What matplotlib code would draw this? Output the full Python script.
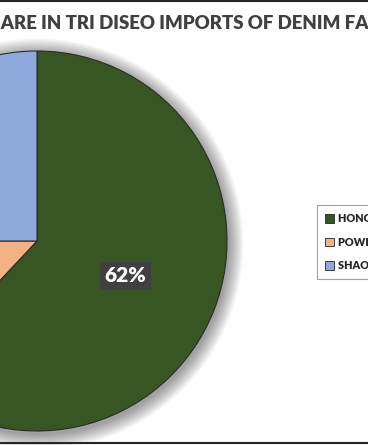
import matplotlib.pyplot as plt
from matplotlib.lines import Line2D
from matplotlib.patches import Circle

plt.rcParams["font.family"] = ["Lato", "DejaVu Sans"]

title = "SHARE IN TRI DISEO IMPORTS OF DENIM FABRIC"
labels = ["HONG KONG TEXTILES", "POWER FABRICS LTD", "SHAOXING TEXTILE CO"]
shares = [62, 13, 25]
colors = ["#375623", "#F4B183", "#8EA9DB"]

W, H = 368, 445
fig = plt.figure(figsize=(W / 100, H / 100), dpi=100)
ax = fig.add_axes([0, 0, 1, 1])

cx, cy, r = 37, H - 241, 190

# soft shadow behind the pie
for i in range(12):
    ax.add_patch(Circle((cx + 1, cy - 3), r + 1 + i * 1.3, color="black",
                        alpha=0.035, lw=0, zorder=0))

wedges, texts, autotexts = ax.pie(
    shares, colors=colors, center=(cx, cy), radius=r, startangle=90,
    counterclock=False, autopct=lambda p: f"{p:.0f}%" if p > 50 else "",
    pctdistance=0.5, wedgeprops=dict(edgecolor="#2b2b2b", linewidth=0.8),
    frame=True)
ax.set_xlim(0, W)
ax.set_ylim(0, H)
ax.set_aspect("equal")
ax.axis("off")
for w in wedges:
    w.set_zorder(2)
for t in autotexts:
    t.set_color("white")
    t.set_fontsize(15)
    t.set_fontweight("heavy")
    t.set_zorder(5)
    t.set_bbox(dict(boxstyle="square,pad=0.22", facecolor="#404040", edgecolor="none"))

leg = fig.legend(wedges, labels, loc="upper left",
                 bbox_to_anchor=(317 / W, 1 - 205 / H),
                 prop=dict(size=7.8, weight="heavy"), frameon=True, fancybox=False,
                 edgecolor="#8c8c8c", handlelength=0.85, handleheight=0.85,
                 handletextpad=0.3, labelspacing=1.15, borderpad=0.75, borderaxespad=0)
leg.get_frame().set_linewidth(0.8)
for t in leg.get_texts():
    t.set_color("#262626")
for h in leg.legend_handles:
    h.set_edgecolor("#262626")
    h.set_linewidth(0.6)

# title, shifted so that the leading "SH" falls off the left edge
fig.canvas.draw()
renderer = fig.canvas.get_renderer()
probe = fig.text(0, 0, "SH", fontsize=13.4, fontweight="heavy")
shift = probe.get_window_extent(renderer).width
probe.remove()
fig.text((1 - shift) / W, 1 - 29 / H, title, fontsize=13.4, fontweight="heavy",
         color="#404040", ha="left", va="baseline")

# chart border (top and bottom visible in the crop)
fig.add_artist(Line2D([0, 1], [1 - 0.8 / H, 1 - 0.8 / H], color="#262626", lw=1.5))
fig.add_artist(Line2D([0, 1], [1.8 / H, 1.8 / H], color="#262626", lw=1.5))

fig.savefig("out.png", dpi=100)
